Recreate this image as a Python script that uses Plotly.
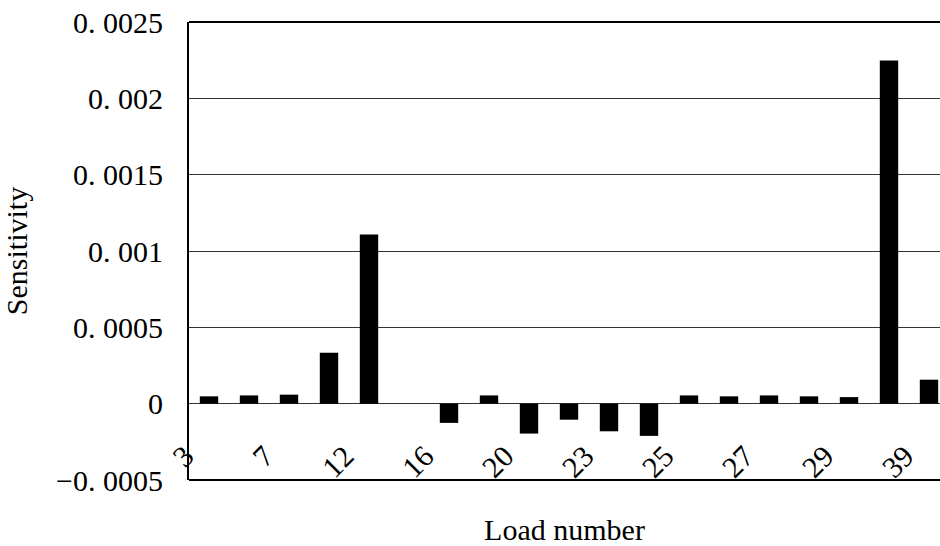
import plotly.graph_objects as go

# IEEE 39-bus load buses
categories = ["3", "4", "7", "8", "12", "15", "16", "18", "20", "21",
              "23", "24", "25", "26", "27", "28", "29", "31", "39"]
sensitivity = [0.000048, 0.000054, 0.000059, 0.000334, 0.001108, 0.0,
               -0.000126, 0.000054, -0.000196, -0.000105, -0.000181, -0.000211,
               0.000054, 0.000048, 0.000054, 0.000048, 0.000043, 0.002247, 0.000157]
shown_labels = categories[::2]
y_min, y_max = -0.0005, 0.0025
y_ticks = [-0.0005, 0.0, 0.0005, 0.001, 0.0015, 0.002, 0.0025]
y_tick_text = ["\u22120. 0005", "0", "0. 0005", "0. 001", "0. 0015", "0. 002", "0. 0025"]

FONT = "Liberation Serif"
FS = 30

fig = go.Figure()
fig.add_trace(go.Bar(x=categories, y=sensitivity, marker=dict(color="black", line=dict(width=0)),
                     showlegend=False))

zero_pos = (0 - y_min) / (y_max - y_min)

fig.update_layout(
    width=940, height=546,
    margin=dict(l=189, r=0, t=22, b=66, autoexpand=False),
    paper_bgcolor="white", plot_bgcolor="white",
    font=dict(family=FONT, size=FS, color="black"),
    bargap=0.54,
    xaxis=dict(
        type="category",
        range=[-0.5, 18.275],
        anchor="free", position=zero_pos,
        showline=False, showgrid=False, zeroline=False,
        ticks="", tickmode="array", tickvals=shown_labels, ticktext=shown_labels,
        tickangle=-45, ticklabelstandoff=28, ticklabelshift=-24,
        tickfont=dict(family=FONT, size=FS, color="black"),
        title=dict(text="Load number", standoff=36, font=dict(family=FONT, size=FS)),
        automargin=False,
    ),
    yaxis=dict(
        range=[y_min, y_max],
        tickmode="array", tickvals=y_ticks, ticktext=y_tick_text,
        showline=True, linecolor="black", linewidth=2,
        showgrid=True, gridcolor="#333333", gridwidth=1,
        zeroline=True, zerolinecolor="#333333", zerolinewidth=1,
        ticks="", ticklabelstandoff=18,
        tickfont=dict(family=FONT, size=FS, color="black"),
        title=dict(text="Sensitivity", standoff=36, font=dict(family=FONT, size=FS)),
        automargin=False,
    ),
    shapes=[
        dict(type="line", xref="paper", yref="paper", x0=0, x1=1, y0=1, y1=1,
             line=dict(color="black", width=2)),
        dict(type="line", xref="paper", yref="paper", x0=0, x1=1, y0=0, y1=0,
             line=dict(color="black", width=2)),
    ],
)

fig.write_html("out.html")
